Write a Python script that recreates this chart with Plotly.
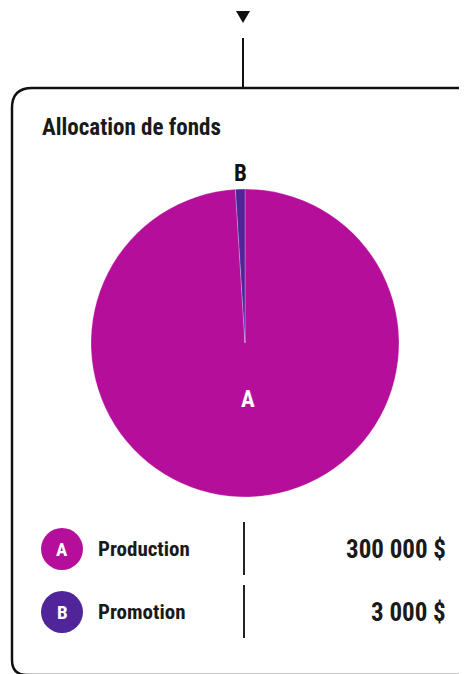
import plotly.graph_objects as go

# page body has an 8px margin, so the figure is drawn at (8, 8)
OFF = 8
W, H = 467 - OFF, 674 - OFF
FONT = "Liberation Sans Narrow, Roboto Condensed, Arial Narrow, Roboto, sans-serif"
INK = "#1a1a1a"

labels = ["A", "B"]
names = ["Production", "Promotion"]
values = [300000, 3000]
value_text = ["300 000 $", "3 000 $"]
colors = ["#b50e9b", "#51259a"]


def px(x, y):
    return (x - OFF) / W, 1 - (y - OFF) / H


def fx(x):
    return (x - OFF) / W


def fy(y):
    return 1 - (y - OFF) / H


fig = go.Figure(go.Pie(
    labels=labels, values=values, sort=False, direction="clockwise", rotation=0,
    marker=dict(colors=colors, line=dict(color="rgba(255,255,255,0.5)", width=0.5)),
    textinfo="none", hoverinfo="label+value", showlegend=False,
    domain=dict(x=[fx(91), fx(399)], y=[fy(497), fy(189)]),
))

shapes = []
# triangle + connector line
shapes.append(dict(type="path", xref="paper", yref="paper",
                   path="M {} {} L {} {} L {} {} Z".format(*px(236, 11), *px(250, 11), *px(243, 23)),
                   fillcolor="#111", line=dict(width=0)))
shapes.append(dict(type="line", xref="paper", yref="paper",
                   x0=fx(243), x1=fx(243), y0=fy(38), y1=fy(88),
                   line=dict(color="#111", width=2)))
# rounded card outline
pts = [(12, 660), (12, 108), (12, 88), (32, 88), (458, 88), (476, 88), (476, 106),
       (476, 660), (476, 675), (461, 675), (27, 675), (12, 675), (12, 660)]
p = [px(*q) for q in pts]
path = "M {} {} L {} {} Q {} {} {} {} L {} {} Q {} {} {} {} L {} {} Q {} {} {} {} L {} {} Q {} {} {} {}".format(
    *p[0], *p[1], *p[2], *p[3], *p[4], *p[5], *p[6], *p[7], *p[8], *p[9], *p[10], *p[11], *p[12])
shapes.append(dict(type="path", xref="paper", yref="paper", path=path,
                   line=dict(color="#111", width=2.5)))

annotations = [
    dict(text="<b>Allocation de fonds</b>", x=fx(40), y=fy(127), xanchor="left", yanchor="middle",
         font=dict(family=FONT, size=23, color=INK)),
    dict(text="<b>B</b>", x=fx(240), y=fy(173), xanchor="center", yanchor="middle",
         font=dict(family=FONT, size=23, color="#111")),
    dict(text="<b>A</b>", x=fx(248), y=fy(399), xanchor="center", yanchor="middle",
         font=dict(family=FONT, size=23, color="white")),
]

row_y = [549, 612]
for i, lab in enumerate(labels):
    cy = row_y[i]
    shapes.append(dict(type="circle", xref="paper", yref="paper",
                       x0=fx(41), x1=fx(83), y0=fy(cy + 21), y1=fy(cy - 21),
                       fillcolor=colors[i], line=dict(width=0)))
    shapes.append(dict(type="line", xref="paper", yref="paper",
                       x0=fx(244), x1=fx(244), y0=fy(cy - 27), y1=fy(cy + 26),
                       line=dict(color="#222", width=2)))
    annotations.append(dict(text="<b>%s</b>" % lab, x=fx(62), y=fy(cy), xanchor="center",
                            yanchor="middle", font=dict(family=FONT, size=19, color="white")))
    annotations.append(dict(text="<b>%s</b>" % names[i], x=fx(96), y=fy(cy), xanchor="left",
                            yanchor="middle", font=dict(family=FONT, size=21, color=INK)))
    annotations.append(dict(text="<b>%s</b>" % value_text[i], x=fx(448), y=fy(cy),
                            xanchor="right", yanchor="middle",
                            font=dict(family=FONT, size=25, color=INK)))

for a in annotations:
    a.update(xref="paper", yref="paper", showarrow=False)

fig.update_layout(width=W, height=H, margin=dict(l=0, r=0, t=0, b=0),
                  paper_bgcolor="white", plot_bgcolor="white",
                  shapes=shapes, annotations=annotations)
fig.write_html("out.html")
